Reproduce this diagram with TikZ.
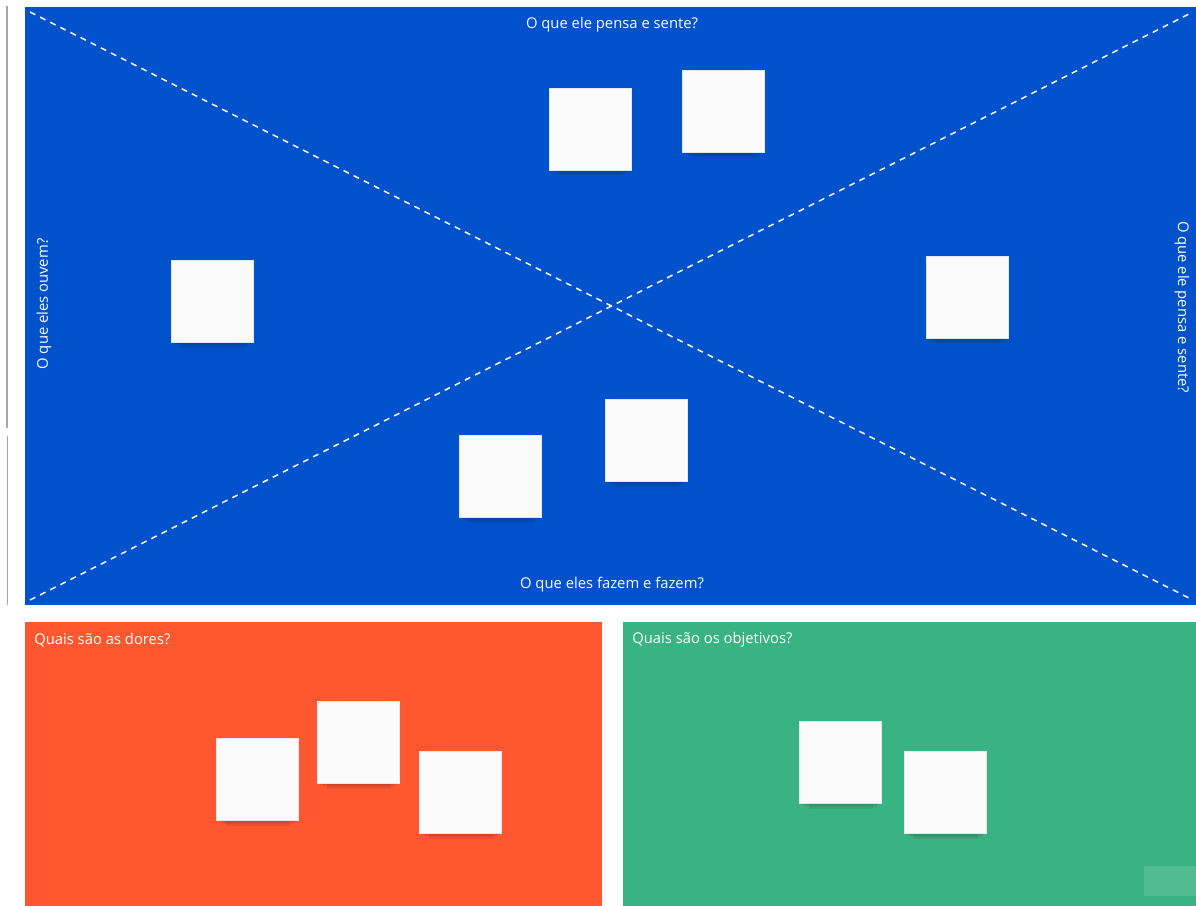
\documentclass[tikz,border=0pt]{standalone}
\usepackage{fontspec}
\setmainfont{Open Sans}
\definecolor{miroblue}{RGB}{0,82,204}
\definecolor{mirored}{RGB}{255,87,48}
\definecolor{mirogreen}{RGB}{58,179,130}
\definecolor{stickyfill}{RGB}{250,250,251}
\definecolor{stickyedge}{RGB}{225,232,242}
\tikzset{
  sticky/.style={fill=stickyfill, draw=stickyedge, line width=0.4pt},
  stickyshadow/.style={fill=black, opacity=0.07},
  lbl/.style={text=white, font=\fontsize{11.1}{13}\selectfont, inner sep=0pt},
  diag/.style={white, dash pattern=on 4.5pt off 4pt, line width=1.1pt}
}
\newcommand{\sticky}[3]{%
  \fill[stickyshadow] (#1+6,#2+78) rectangle (#1+78,#2+86);
  \fill[stickyshadow] (#1+10,#2+78) rectangle (#1+74,#2+88);
  \fill[stickyshadow] (#1+3,#2+78) rectangle (#1+80,#2+84);
  \node[sticky, minimum width=61.5pt, minimum height=61.5pt, anchor=north west, inner sep=0pt] (#3) at (#1,#2) {};
}
\begin{document}
\begin{tikzpicture}[x=0.75pt,y=-0.75pt]
\useasboundingbox (0,0) rectangle (1196,906);
\fill[white] (0,0) rectangle (1196,906);
% left gray line
\draw[gray!70, line width=0.8pt] (7,6) -- (7,428);
\draw[gray!70, line width=0.8pt] (7.5,436) -- (7.5,605);
% panels
\fill[miroblue] (25,7) rectangle (1196,605);
\fill[mirored] (25,622) rectangle (602,906);
\fill[mirogreen] (623,622) rectangle (1196,906);
% diagonals
\coordinate (tl) at (30,12);
\coordinate (tr) at (1193,12);
\coordinate (bl) at (30,600);
\coordinate (br) at (1193,600);
\draw[diag] (tl) -- (br);
\draw[diag] (bl) -- (tr);
% labels
\node[lbl] (ltop) at (612,25) {O que ele pensa e sente?};
\node[lbl] (lbot) at (612,585) {O que eles fazem e fazem?};
\node[lbl, rotate=90] (lleft) at (44,304) {O que eles ouvem?};
\node[lbl, rotate=-90] (lright) at (1182,307) {O que ele pensa e sente?};
\node[lbl, anchor=west] (ldor) at (34,640) {Quais são as dores?};
\node[lbl, anchor=west] (lobj) at (632,640) {Quais são os objetivos?};
% stickies
\sticky{549}{88}{s1}
\sticky{682}{70}{s2}
\sticky{171}{260}{s3}
\sticky{926}{256}{s4}
\sticky{605}{399}{s5}
\sticky{459}{435}{s6}
\sticky{216}{738}{s7}
\sticky{317}{701}{s8}
\sticky{419}{751}{s9}
\sticky{799}{721}{s10}
\sticky{904}{751}{s11}
% faint button
\fill[white, opacity=0.12] (1144,866) rectangle (1196,896);
\end{tikzpicture}
\end{document}
